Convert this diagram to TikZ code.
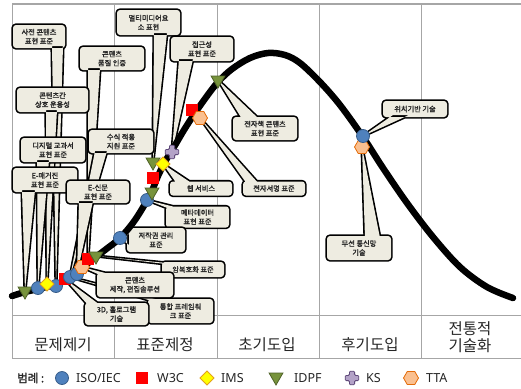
\documentclass[tikz,border=0pt]{standalone}
\usepackage{fontspec}
\setmainfont{Noto Sans CJK KR}
\newfontfamily\kbold{Noto Sans CJK KR}[FakeBold=1.6]
\newfontfamily\latfont{Noto Sans}
\usetikzlibrary{shapes.geometric,calc}
\definecolor{cbg}{HTML}{EEECE1}
\definecolor{isoF}{HTML}{4F81BD}
\definecolor{isoD}{HTML}{385D8A}
\definecolor{imsF}{HTML}{FFFF00}
\definecolor{imsD}{HTML}{E3A21A}
\definecolor{idpfF}{HTML}{77933C}
\definecolor{idpfD}{HTML}{4F6228}
\definecolor{ksF}{HTML}{B3A2C7}
\definecolor{ksD}{HTML}{5F497A}
\definecolor{ttaF}{HTML}{FAC090}
\definecolor{ttaD}{HTML}{E46C0A}
\definecolor{gridc}{HTML}{A6A6A6}
\tikzset{
  cshape/.style={rectangle, inner sep=0pt, outer sep=0pt},
  coutline/.style={draw=black, line width=3.2pt, line join=round, rounded corners=3pt},
  cfill/.style={fill=cbg, rounded corners=3pt},
  ctext/.style={font=\kbold\fontsize{7.2}{9}\selectfont, align=center, inner sep=0pt, text=black!85},
  mk/.style={inner sep=0pt, outer sep=0pt, line width=0.8pt},
  iso/.style={mk, circle, minimum size=13pt, fill=isoF, draw=isoD},
  w3c/.style={mk, rectangle, minimum size=12pt, fill=red},
  ims/.style={mk, diamond, minimum width=14pt, minimum height=14pt, fill=imsF, draw=imsD},
  idpf/.style={mk, regular polygon, regular polygon sides=3, shape border rotate=180, minimum size=16pt, fill=idpfF, draw=idpfD},
  tta/.style={mk, regular polygon, regular polygon sides=6, minimum size=15pt, fill=ttaF, draw=ttaD},
  ksstyle/.style={mk, fill=ksF, draw=ksD, rounded corners=1pt},
  gridln/.style={draw=gridc, line width=0.9pt},
  stagetxt/.style={font=\fontsize{15.5}{17.5}\selectfont, text=black!85, inner sep=0pt, align=center},
  lgtext/.style={font=\latfont\fontsize{12.5}{14}\selectfont, text=black!85, inner sep=0pt, anchor=west},
}
\newcommand{\mycallout}[8]{%
  \node[cshape, minimum width=#3pt, minimum height=#4pt] (#1) at (#2) {};
  \path[coutline] (#1.south west) rectangle (#1.north east) [sharp corners] (#6) -- (#8) -- (#7) -- cycle;
  \path[cfill] (#1.south west) rectangle (#1.north east) [sharp corners] (#6) -- (#8) -- (#7) -- cycle;
  \node[ctext] (#1t) at (#1.center) {#5};
}
\newcommand{\kscross}[1]{%
  \path[ksstyle, shift={(#1)}] (-2.6,-6.8) -- (2.6,-6.8) -- (2.6,-2.6) -- (6.8,-2.6) -- (6.8,2.6) -- (2.6,2.6) -- (2.6,6.8) -- (-2.6,6.8) -- (-2.6,2.6) -- (-6.8,2.6) -- (-6.8,-2.6) -- (-2.6,-2.6) -- cycle;}
\begin{document}
\begin{tikzpicture}[x=1pt, y=-1pt]
\useasboundingbox (0,0) rectangle (521,388);
\fill[white] (0,0) rectangle (521,388);
% grid
\draw[gridln, line width=1.6pt] (12,4) -- (521,4);
\foreach \gx in {12,114.5,217,319,421} { \draw[gridln] (\gx,4) -- (\gx,358); }
\draw[gridln] (12,315) -- (521,315);
\draw[gridln] (12,358) -- (521,358);
% marker positions
\coordinate (p1) at (25,291);
\coordinate (p2) at (38,288);
\coordinate (p3) at (47,284);
\coordinate (p4) at (56,286);
\coordinate (p5) at (65,279);
\coordinate (p6) at (70,277);
\coordinate (p7) at (77,274);
\coordinate (p8) at (82,267);
\coordinate (p9) at (88,259);
\coordinate (p10) at (96,256);
\coordinate (p11) at (120,238);
\coordinate (p12) at (147,200);
\coordinate (p13) at (152,192);
\coordinate (p14) at (153,178);
\coordinate (p15) at (153,162);
\coordinate (p16) at (163,164);
\coordinate (p17) at (172,152);
\coordinate (p18) at (192,110);
\coordinate (p19) at (200,118);
\coordinate (p20) at (218,80);
\coordinate (p21) at (363,136);
\coordinate (p22) at (362,147);
% callouts
\mycallout{c1}{39,36.5}{52}{23}{사전 콘텐츠\\표현 표준}{52,46}{63,46}{p4}
\mycallout{c2}{112,58.5}{64}{23}{콘텐츠\\품질 인증}{88,68}{100,68}{p9}
\mycallout{c3}{148.5,22.5}{63}{25}{멀티미디어요\\소 표현}{154,33}{167,33}{p15}
\mycallout{c4}{202,49}{62}{24}{접근성\\표현 표준}{179,59}{193,59}{p17}
\mycallout{c5}{52.5,100}{71}{24}{콘텐츠간\\상호 운용성}{46,110}{57,110}{p3}
\mycallout{c6}{53,150}{64}{24}{디지털 교과서\\표현 표준}{37,160}{49,160}{p2}
\mycallout{c7}{121,141.5}{64}{23}{수식 적용\\지원 표준}{95,151}{107,151}{p6}
\mycallout{c8}{45,180}{64}{24}{E-매거진\\표현 표준}{22,190}{35,190}{p1}
\mycallout{c9}{98,192}{62}{22}{E-신문\\표현 표준}{79,201}{93,201}{p7}
\mycallout{c10}{265,128.5}{64}{23}{전자책 콘텐츠\\표현 표준}{242,119}{259,119}{p20}
\mycallout{c11}{201,188.5}{62}{14}{웹 서비스}{177,184}{193,184}{p16}
\mycallout{c12}{274,188.5}{62}{14}{전자서명 표준}{247,184}{259,184}{p19}
\mycallout{c13}{197.5,217}{63}{21}{메타데이터\\표현 표준}{170,209}{183,209}{p12}
\mycallout{c14}{156,240}{58}{24}{저작권 관리\\표준}{129,234}{129,245}{p11}
\mycallout{c15}{193,269.5}{62}{15}{암복호화 표준}{166,264}{177,264}{p10}
\mycallout{c16}{180.5,311}{65}{24}{통합 프레임워\\크 표준}{152,301}{163,301}{p6}
\mycallout{c17}{116.5,314}{63}{22}{3D, 홀로그램\\기술}{88,305}{100,305}{p5}
\mycallout{c18}{135,285}{76}{24}{콘텐츠\\제작, 편집솔루션}{100,275}{113,275}{p8}
\mycallout{c19}{415,109}{64}{16}{위치기반 기술}{393,115}{409,115}{p21}
\mycallout{c20}{359,248}{64}{24}{무선 통신망\\기술}{365,238}{380,238}{p22}
% curve
\draw[line width=6.5pt, line cap=round, line join=round] plot[smooth, tension=0.55] coordinates {
 (12,296) (25,292) (38,289) (50,286) (62,282) (72,276) (82,268) (92,260) (105,250)
 (120,238) (135,220) (150,195) (158,176) (166,160) (174,147) (184,130) (195,113)
 (207,96) (218,82) (232,69) (250,58) (268,53) (285,55) (300,63) (320,82) (340,105)
 (363,137) (383,168) (407,203) (433,237) (460,267) (487,287) (513,298)};
% markers
\node[idpf] (m1) at (p1) {};
\node[iso] (m2) at (p2) {};
\node[iso] (m4) at (p4) {};
\node[ims] (m3) at (p3) {};
\node[w3c] (m5) at (p5) {};
\node[iso] (m6) at (p6) {};
\node[iso] (m7) at (p7) {};
\node[tta] (m8) at (p8) {};
\node[w3c] (m9) at (p9) {};
\node[idpf] (m10) at (p10) {};
\node[iso] (m11) at (p11) {};
\node[iso] (m12) at (p12) {};
\node[idpf] (m13) at (p13) {};
\node[w3c] (m14) at (p14) {};
\node[idpf] (m15) at (p15) {};
\node[ims] (m16) at (p16) {};
\kscross{p17}
\node[w3c] (m18) at (p18) {};
\node[tta] (m19) at (p19) {};
\node[idpf] (m20) at (p20) {};
\node[tta] (m22) at (p22) {};
\node[iso] (m21) at (p21) {};
% stage labels
\node[stagetxt] (s1) at (63,345) {문제제기};
\node[stagetxt] (s2) at (165,345) {표준제정};
\node[stagetxt] (s3) at (267,345) {초기도입};
\node[stagetxt] (s4) at (370,345) {후기도입};
\node[stagetxt] (s5) at (470,337) {전통적\\기술화};
% legend
\node[font=\kbold\fontsize{11.5}{13}\selectfont, inner sep=0pt, anchor=west, text=black!85] (lgT) at (17,378) {범례 :};
\node[iso] (lg1) at (62,378) {};
\node[lgtext] (lg1t) at (76,378) {ISO/IEC};
\node[w3c] (lg2) at (142,378) {};
\node[lgtext] (lg2t) at (157,378) {W3C};
\node[ims] (lg3) at (207,378) {};
\node[lgtext] (lg3t) at (221,378) {IMS};
\node[idpf] (lg4) at (276,377) {};
\node[lgtext] (lg4t) at (294,378) {IDPF};
\coordinate (lg5) at (352,378);
\kscross{lg5}
\node[lgtext] (lg5t) at (366,378) {KS};
\node[tta] (lg6) at (411,378) {};
\node[lgtext] (lg6t) at (426,378) {TTA};
\end{tikzpicture}
\end{document}
